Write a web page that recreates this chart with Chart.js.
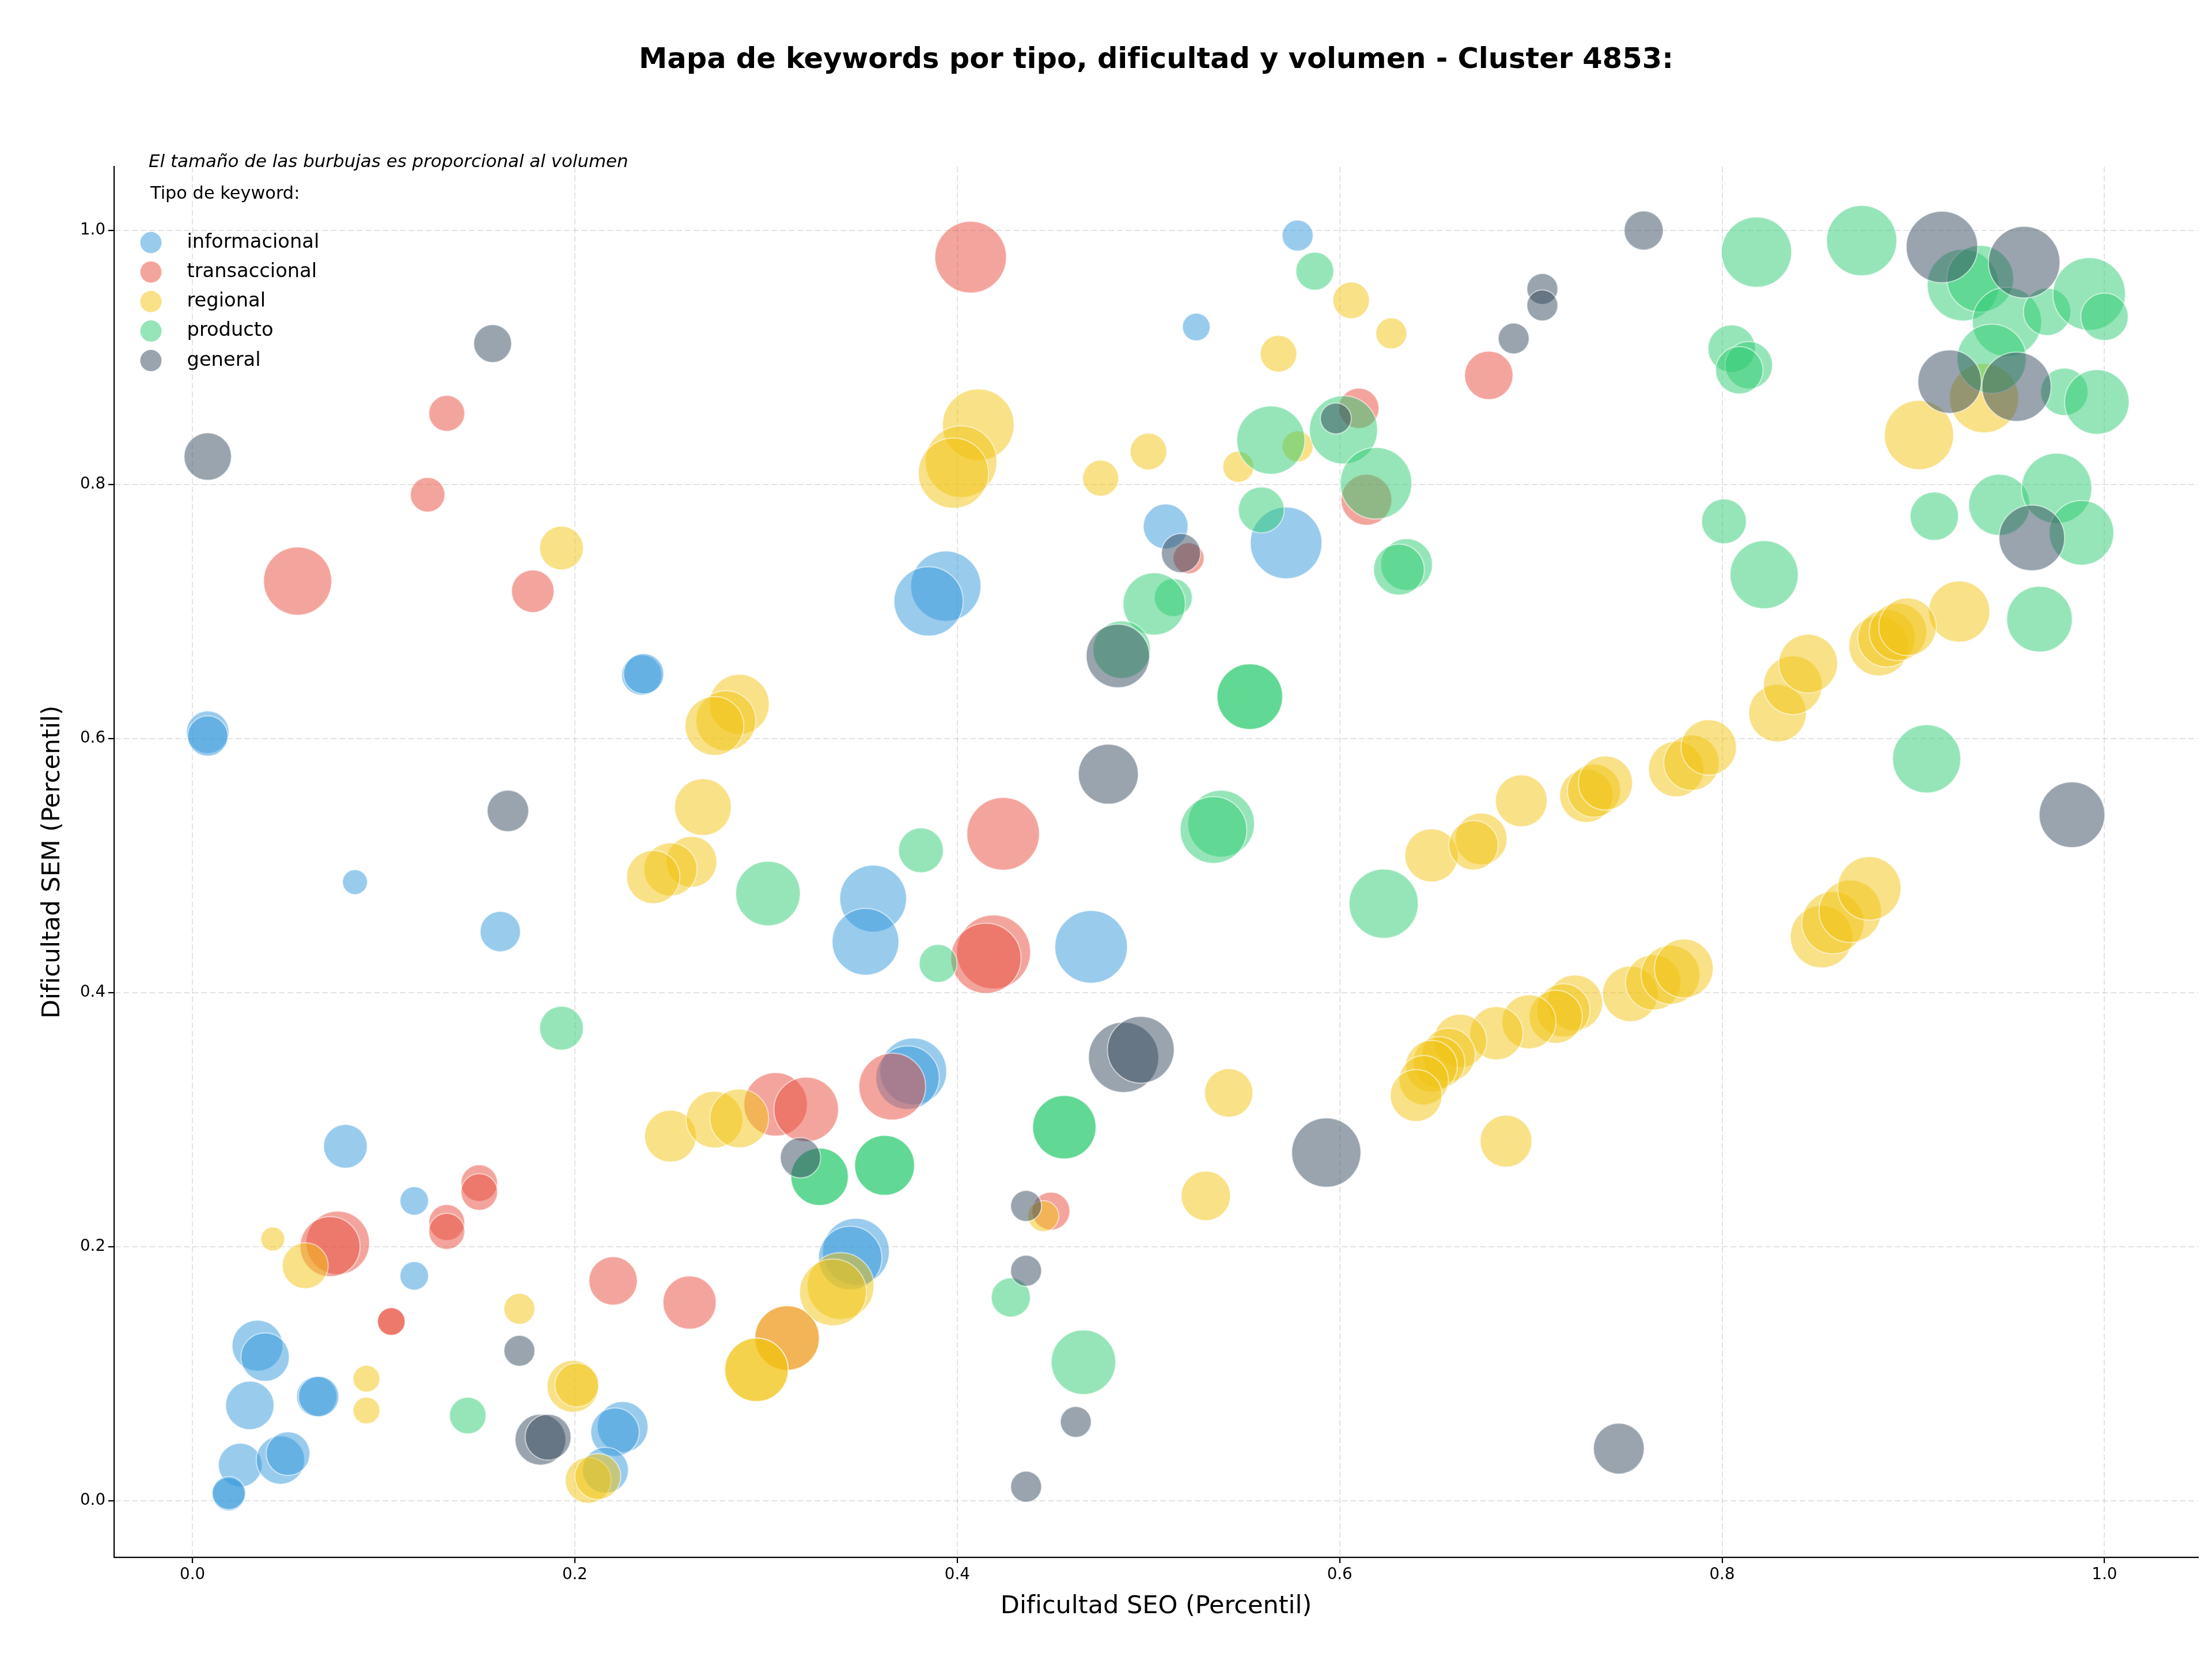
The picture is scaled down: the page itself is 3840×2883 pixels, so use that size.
<!DOCTYPE html>
<html lang="es">
<head>
<meta charset="utf-8">
<title>Mapa de keywords - Cluster 4853</title>
<script src="https://cdn.jsdelivr.net/npm/chart.js@4.4.1/dist/chart.umd.min.js"></script>
<style>
  html, body { margin: 0; padding: 0; background: #fff; overflow: hidden; }
  #wrap { width: 3840px; height: 2883px; position: relative; }
</style>
</head>
<body>
<div id="wrap"><canvas id="keywordChart"></canvas></div>
<script>
const tipos = ['informacional', 'transaccional', 'regional', 'producto', 'general'];
const colores = ['#3498db', '#e74c3c', '#f1c40f', '#2ecc71', '#34495e'];
const xTicks = [0, 0.2, 0.4, 0.6, 0.8, 1.0];
const yTicks = [0, 0.2, 0.4, 0.6, 0.8, 1.0];

// [dificultad SEO, dificultad SEM, volumen]
const informacional = [
  [0.578, 0.996, 200], [0.525, 0.924, 160], [0.008, 0.605, 380], [0.008, 0.602, 340],
  [0.235, 0.650, 340], [0.236, 0.651, 340], [0.085, 0.487, 130], [0.161, 0.448, 340],
  [0.394, 0.720, 1030], [0.385, 0.708, 1000], [0.509, 0.767, 420], [0.572, 0.754, 1070],
  [0.356, 0.474, 930], [0.352, 0.440, 930], [0.470, 0.436, 1100], [0.377, 0.338, 930],
  [0.374, 0.333, 840], [0.347, 0.196, 930], [0.344, 0.191, 840], [0.080, 0.279, 400],
  [0.116, 0.236, 170], [0.116, 0.177, 170], [0.034, 0.122, 540], [0.038, 0.113, 490],
  [0.030, 0.075, 490], [0.065, 0.082, 340], [0.066, 0.082, 340], [0.025, 0.028, 400],
  [0.046, 0.032, 490], [0.050, 0.037, 400], [0.019, 0.005, 230], [0.019, 0.006, 230],
  [0.225, 0.058, 540], [0.221, 0.054, 490], [0.216, 0.024, 440]
];
const transaccional = [
  [0.133, 0.856, 270], [0.123, 0.792, 250], [0.055, 0.724, 970], [0.178, 0.716, 380],
  [0.407, 0.979, 1070], [0.678, 0.886, 490], [0.610, 0.860, 340], [0.614, 0.788, 540],
  [0.521, 0.742, 200], [0.424, 0.525, 1100], [0.419, 0.432, 1140], [0.415, 0.427, 1030],
  [0.305, 0.312, 840], [0.321, 0.308, 870], [0.366, 0.326, 930], [0.150, 0.250, 280],
  [0.150, 0.243, 280], [0.133, 0.219, 270], [0.133, 0.212, 270], [0.076, 0.203, 840],
  [0.072, 0.200, 750], [0.104, 0.141, 160], [0.104, 0.141, 160], [0.220, 0.173, 490],
  [0.260, 0.156, 590], [0.311, 0.128, 870], [0.449, 0.228, 300]
];
const regional = [
  [0.193, 0.750, 400], [0.411, 0.847, 1070], [0.402, 0.818, 1070], [0.398, 0.809, 1030],
  [0.475, 0.805, 270], [0.500, 0.826, 280], [0.606, 0.945, 280], [0.627, 0.919, 200],
  [0.568, 0.903, 280], [0.578, 0.830, 200], [0.547, 0.814, 200], [0.937, 0.868, 1000],
  [0.903, 0.839, 1000], [0.924, 0.700, 780], [0.286, 0.627, 750], [0.279, 0.614, 750],
  [0.273, 0.610, 720], [0.267, 0.546, 670], [0.261, 0.503, 540], [0.250, 0.497, 590],
  [0.241, 0.491, 590], [0.648, 0.508, 590], [0.674, 0.521, 560], [0.670, 0.516, 510],
  [0.695, 0.551, 560], [0.729, 0.555, 590], [0.733, 0.559, 590], [0.739, 0.565, 610],
  [0.776, 0.576, 640], [0.784, 0.581, 640], [0.793, 0.593, 640], [0.829, 0.620, 690],
  [0.837, 0.642, 720], [0.845, 0.659, 720], [0.882, 0.673, 750], [0.886, 0.679, 690],
  [0.892, 0.684, 690], [0.897, 0.688, 690], [0.542, 0.321, 490], [0.530, 0.240, 510],
  [0.687, 0.283, 560], [0.723, 0.392, 640], [0.717, 0.386, 590], [0.713, 0.381, 590],
  [0.699, 0.377, 610], [0.682, 0.368, 590], [0.663, 0.362, 590], [0.657, 0.351, 590],
  [0.652, 0.345, 560], [0.648, 0.342, 560], [0.644, 0.331, 510], [0.640, 0.319, 560],
  [0.752, 0.399, 640], [0.764, 0.408, 640], [0.773, 0.414, 720], [0.780, 0.419, 720],
  [0.852, 0.444, 810], [0.858, 0.455, 810], [0.867, 0.464, 810], [0.877, 0.482, 840],
  [0.042, 0.206, 120], [0.059, 0.185, 440], [0.091, 0.096, 150], [0.091, 0.071, 150],
  [0.171, 0.151, 200], [0.199, 0.090, 560], [0.201, 0.091, 400], [0.207, 0.016, 440],
  [0.212, 0.019, 440], [0.250, 0.287, 560], [0.273, 0.300, 670], [0.286, 0.301, 720],
  [0.339, 0.169, 930], [0.335, 0.164, 930], [0.311, 0.128, 870], [0.295, 0.103, 840],
  [0.295, 0.103, 840], [0.445, 0.224, 200]
];
const producto = [
  [0.587, 0.968, 300], [0.602, 0.843, 970], [0.564, 0.835, 970], [0.619, 0.801, 1070],
  [0.559, 0.780, 440], [0.635, 0.737, 560], [0.631, 0.733, 540], [0.513, 0.711, 300],
  [0.503, 0.706, 810], [0.818, 0.983, 1030], [0.873, 0.992, 1030], [0.926, 0.957, 1070],
  [0.935, 0.962, 930], [0.949, 0.928, 1000], [0.970, 0.936, 470], [0.992, 0.950, 1100],
  [1.000, 0.932, 470], [0.941, 0.899, 1000], [0.979, 0.873, 470], [0.996, 0.865, 870],
  [0.805, 0.907, 470], [0.814, 0.894, 470], [0.809, 0.890, 470], [0.801, 0.771, 420],
  [0.822, 0.729, 970], [0.911, 0.775, 490], [0.945, 0.784, 780], [0.975, 0.797, 1030],
  [0.988, 0.762, 870], [0.966, 0.694, 900], [0.907, 0.584, 970], [0.486, 0.670, 690],
  [0.553, 0.633, 900], [0.553, 0.633, 900], [0.538, 0.533, 930], [0.534, 0.528, 930],
  [0.623, 0.470, 1000], [0.301, 0.478, 870], [0.381, 0.512, 420], [0.390, 0.423, 300],
  [0.193, 0.372, 400], [0.328, 0.255, 690], [0.328, 0.255, 690], [0.362, 0.264, 750],
  [0.362, 0.264, 750], [0.456, 0.294, 840], [0.456, 0.294, 840], [0.428, 0.160, 320],
  [0.466, 0.109, 870], [0.144, 0.067, 280]
];
const general = [
  [0.157, 0.911, 300], [0.008, 0.822, 470], [0.165, 0.543, 360], [0.759, 1.000, 320],
  [0.706, 0.954, 200], [0.706, 0.941, 200], [0.691, 0.915, 200], [0.598, 0.852, 200],
  [0.517, 0.746, 320], [0.915, 0.987, 1070], [0.958, 0.975, 1070], [0.919, 0.881, 840],
  [0.954, 0.877, 1000], [0.962, 0.758, 900], [0.983, 0.540, 900], [0.484, 0.665, 840],
  [0.479, 0.572, 750], [0.487, 0.349, 1030], [0.496, 0.355, 930], [0.593, 0.274, 1000],
  [0.746, 0.041, 540], [0.318, 0.270, 340], [0.436, 0.232, 200], [0.436, 0.181, 200],
  [0.462, 0.062, 200], [0.436, 0.011, 200], [0.171, 0.118, 200], [0.182, 0.048, 540],
  [0.186, 0.050, 440]
];
const series = [informacional, transaccional, regional, producto, general];

function withAlpha(hex, a) {
  const n = parseInt(hex.slice(1), 16);
  return `rgba(${n >> 16}, ${(n >> 8) & 255}, ${n & 255}, ${a})`;
}
// bubble area proportional to volume
const radio = vol => Math.sqrt(vol * 3.6);

Chart.defaults.font.family = '"DejaVu Sans", sans-serif';
Chart.defaults.color = '#000';

// legend + note drawn inside the plot, top-left
const leyendaInterior = {
  id: 'leyendaInterior',
  afterDraw(chart) {
    const { ctx, chartArea } = chart;
    const left = chartArea.left, top = chartArea.top;
    ctx.save();
    ctx.fillStyle = '#000';
    ctx.textAlign = 'left';
    ctx.textBaseline = 'alphabetic';
    ctx.font = 'italic 30.9px "DejaVu Sans"';
    ctx.fillText('El tamaño de las burbujas es proporcional al volumen', left + 60, top + 1);
    ctx.font = '30.4px "DejaVu Sans"';
    ctx.fillText('Tipo de keyword:', left + 63, top + 56);
    ctx.textBaseline = 'middle';
    ctx.font = '33.7px "DejaVu Sans"';
    chart.data.datasets.forEach((ds, i) => {
      const y = top + 131.6 + i * 51.2;
      ctx.beginPath();
      ctx.arc(left + 64, y, 18.5, 0, Math.PI * 2);
      ctx.fillStyle = ds.backgroundColor;
      ctx.fill();
      ctx.fillStyle = '#000';
      ctx.fillText(ds.label, left + 126.5, y);
    });
    ctx.restore();
  }
};

const gridOpts = {
  color: 'rgba(176, 176, 176, 0.35)',
  lineWidth: 2,
  tickLength: 10,
  tickColor: '#000',
  tickWidth: 2.2
};

const ctx = document.getElementById('keywordChart').getContext('2d');
new Chart(ctx, {
  type: 'bubble',
  data: {
    datasets: tipos.map((tipo, i) => ({
      label: tipo,
      data: series[i].map(([x, y, v]) => ({ x: x, y: y, r: radio(v) })),
      backgroundColor: withAlpha(colores[i], 0.5),
      borderColor: 'rgba(255, 255, 255, 0.55)',
      borderWidth: 2,
      order: tipos.length - i
    }))
  },
  options: {
    responsive: true,
    maintainAspectRatio: false,
    animation: false,
    layout: { autoPadding: false, padding: { left: 0, right: 24, top: 0, bottom: 0 } },
    plugins: {
      legend: { display: false },
      tooltip: { enabled: false },
      title: {
        display: true,
        fullSize: false,
        text: 'Mapa de keywords por tipo, dificultad y volumen - Cluster 4853:',
        color: '#000',
        font: { size: 49.5, weight: 'bold' },
        padding: { top: 75, bottom: 155 }
      }
    },
    scales: {
      x: {
        type: 'linear',
        min: -0.041,
        max: 1.049,
        z: 1,
        afterBuildTicks: s => { s.ticks = xTicks.map(v => ({ value: v })); },
        afterFit: s => { s.height = 180; s.paddingLeft = 0; s.paddingRight = 0; },
        ticks: { callback: v => v.toFixed(1), color: '#000', font: { size: 27.7 }, padding: 4, autoSkip: false, maxRotation: 0 },
        grid: gridOpts,
        border: { display: true, color: '#000', width: 2.2, dash: [10, 5] },
        title: { display: true, text: 'Dificultad SEO (Percentil)', color: '#000', font: { size: 43 }, padding: { top: 0, bottom: 68 } }
      },
      y: {
        type: 'linear',
        min: -0.0446,
        max: 1.0502,
        z: 1,
        afterBuildTicks: s => { s.ticks = yTicks.map(v => ({ value: v })); },
        afterFit: s => { s.width = 198; s.paddingTop = 0; s.paddingBottom = 0; },
        ticks: { callback: v => v.toFixed(1), color: '#000', font: { size: 27.7 }, padding: 5, autoSkip: false },
        grid: gridOpts,
        border: { display: true, color: '#000', width: 2.2, dash: [10, 5] },
        title: { display: true, text: 'Dificultad SEM (Percentil)', color: '#000', font: { size: 43 }, padding: { top: 66, bottom: 0 } }
      }
    }
  },
  plugins: [leyendaInterior]
});
</script>
</body>
</html>
